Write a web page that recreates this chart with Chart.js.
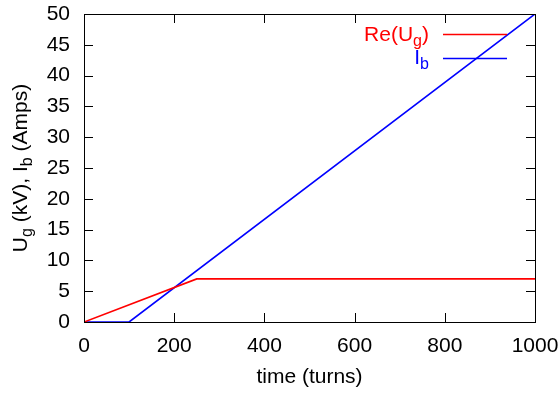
<!DOCTYPE html>
<html>
<head>
<meta charset="utf-8">
<script src="https://cdn.jsdelivr.net/npm/chart.js@4"></script>
<style>
  body { margin: 0; background: #fff; }
  canvas { display: block; }
</style>
</head>
<body>
<canvas id="c" width="558" height="394"></canvas>
<script>
// data
const turnsRe = [0, 250, 1000];
const reUg = [0, 7, 7];
const turnsIb = [0, 100, 1000];
const ib = [0, 0, 50];
const xTicks = [0, 200, 400, 600, 800, 1000];
const yTicks = [0, 5, 10, 15, 20, 25, 30, 35, 40, 45, 50];

const FONT = "'Liberation Sans', Arial, sans-serif";

function toPoints(xs, ys) {
    const pts = [];
    for (var i = 0; i < xs.length; i++)
        pts.push({x: xs[i], y: ys[i]});
    return pts;
}

// draw text made of pieces, some of them subscripts
function richText(ctx, parts, x, y, align) {
    let w = 0;
    parts.forEach(p => {
        ctx.font = (p.sub ? 16 : 21) + 'px ' + FONT;
        p.w = ctx.measureText(p.t).width;
        w += p.w;
    });
    let cx = align == 'right' ? x - w : (align == 'center' ? x - w / 2 : x);
    parts.forEach(p => {
        ctx.font = (p.sub ? 16 : 21) + 'px ' + FONT;
        ctx.fillText(p.t, cx, y + (p.sub ? 5 : 0));
        cx += p.w;
    });
}

const gnuplotLook = {
    id: 'gnuplotLook',
    afterDatasetsDraw(chart) {
        const ctx = chart.ctx;
        const a = chart.chartArea;
        const xs = chart.scales.x, ys = chart.scales.y;
        ctx.save();
        ctx.strokeStyle = '#000';
        ctx.lineWidth = 1;
        ctx.strokeRect(a.left + 0.5, a.top + 0.5, a.right - a.left, a.bottom - a.top);
        ctx.beginPath();
        const tl = 9;
        xTicks.forEach(v => {
            const px = Math.round(xs.getPixelForValue(v)) + 0.5;
            ctx.moveTo(px, a.bottom); ctx.lineTo(px, a.bottom - tl);
            ctx.moveTo(px, a.top); ctx.lineTo(px, a.top + tl);
        });
        yTicks.forEach(v => {
            const py = Math.round(ys.getPixelForValue(v)) + 0.5;
            ctx.moveTo(a.left, py); ctx.lineTo(a.left + tl, py);
            ctx.moveTo(a.right, py); ctx.lineTo(a.right - tl, py);
        });
        ctx.stroke();

        // legend
        ctx.textBaseline = 'alphabetic';
        ctx.lineWidth = 1.5;
        ctx.fillStyle = '#ff0000';
        richText(ctx, [{t: 'Re(U'}, {t: 'g', sub: true}, {t: ')'}], 429, 41, 'right');
        ctx.strokeStyle = '#ff0000';
        ctx.beginPath(); ctx.moveTo(443, 34.5); ctx.lineTo(507, 34.5); ctx.stroke();
        ctx.fillStyle = '#0000ff';
        richText(ctx, [{t: 'I'}, {t: 'b', sub: true}], 429, 64, 'right');
        ctx.strokeStyle = '#0000ff';
        ctx.beginPath(); ctx.moveTo(443, 58.5); ctx.lineTo(507, 58.5); ctx.stroke();

        // y axis title
        ctx.fillStyle = '#000';
        ctx.translate(27, 168);
        ctx.rotate(-Math.PI / 2);
        richText(ctx, [{t: 'U'}, {t: 'g', sub: true}, {t: ' (kV), I'}, {t: 'b', sub: true}, {t: ' (Amps)'}], 0, 0, 'center');
        ctx.restore();
    }
};

new Chart(document.getElementById('c'), {
    type: 'scatter',
    data: {
        datasets: [{
            label: 'Re(Ug)',
            data: toPoints(turnsRe, reUg),
            showLine: true,
            borderColor: '#ff0000',
            borderWidth: 1.6,
            pointRadius: 0,
            fill: false
        }, {
            label: 'Ib',
            data: toPoints(turnsIb, ib),
            showLine: true,
            borderColor: '#0000ff',
            borderWidth: 1.6,
            pointRadius: 0,
            fill: false
        }]
    },
    options: {
        responsive: false,
        animation: false,
        layout: { padding: { top: 14, right: 23, left: 0, bottom: 0 } },
        plugins: { legend: { display: false }, tooltip: { enabled: false } },
        scales: {
            x: {
                type: 'linear', min: 0, max: 1000,
                afterFit(scale) { scale.height = 72; scale.paddingLeft = 0; scale.paddingRight = 0; },
                afterBuildTicks(scale) { scale.ticks = xTicks.map(v => ({value: v})); },
                grid: { display: false, drawTicks: false },
                border: { display: false },
                ticks: { color: '#000', padding: 12, font: { family: FONT, size: 21 }, callback: v => String(v) },
                title: { display: true, text: 'time (turns)', color: '#000', padding: { top: 0, bottom: 4 }, font: { family: FONT, size: 21 } }
            },
            y: {
                type: 'linear', min: 0, max: 50,
                afterFit(scale) { scale.width = 84; scale.paddingTop = 0; scale.paddingBottom = 0; },
                afterBuildTicks(scale) { scale.ticks = yTicks.map(v => ({value: v})); },
                grid: { display: false, drawTicks: false },
                border: { display: false },
                ticks: { color: '#000', padding: 14, font: { family: FONT, size: 21 }, callback: v => String(v) }
            }
        }
    },
    plugins: [gnuplotLook]
});
</script>
</body>
</html>
